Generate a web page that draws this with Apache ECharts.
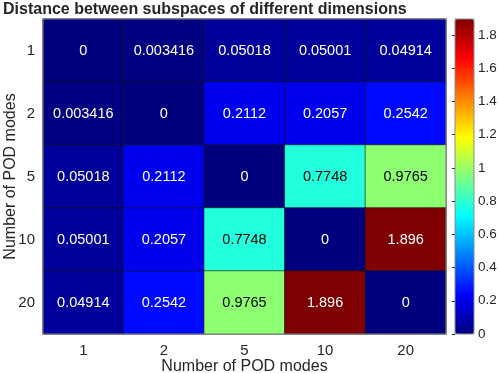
<!DOCTYPE html>
<html>
<head>
<meta charset="utf-8">
<script src="https://cdn.jsdelivr.net/npm/echarts@6/dist/echarts.min.js"></script>
<style>
  html, body { margin: 0; padding: 0; background: #fff; }
  #chart { width: 498px; height: 373px; }
</style>
</head>
<body>
<div id="chart"></div>
<script>
const modes = ['1', '2', '5', '10', '20'];
const row1 = [0, 0.003416, 0.05018, 0.05001, 0.04914];
const row2 = [0.003416, 0, 0.2112, 0.2057, 0.2542];
const row5 = [0.05018, 0.2112, 0, 0.7748, 0.9765];
const row10 = [0.05001, 0.2057, 0.7748, 0, 1.896];
const row20 = [0.04914, 0.2542, 0.9765, 1.896, 0];
const rows = [row1, row2, row5, row10, row20];
const colorMax = 1.896;
const jet = ['#00007F', '#0000FF', '#007FFF', '#00FFFF', '#7FFF7F', '#FFFF00', '#FF7F00', '#FF0000', '#7F0000'];

const cells = [];
rows.forEach((r, yi) => {
  r.forEach((v, xi) => {
    // light cells (cyan / green) get dark text, like the original
    const dark = v > 0.6 && v < 1.5;
    cells.push({
      value: [xi, yi, v],
      label: { color: dark ? '#000' : '#fff' }
    });
  });
});

const fmt = v => parseFloat(v.toPrecision(4)).toString();
const textColor = '#262626';

const chart = echarts.init(document.getElementById('chart'));
chart.setOption({
  animation: false,
  textStyle: { fontFamily: 'Liberation Sans, Arial, sans-serif' },
  title: {
    text: 'Distance between subspaces of different dimensions',
    left: -2, top: -3,
    textStyle: { fontSize: 16, fontWeight: 'bold', color: textColor }
  },
  grid: [
    { left: 43, right: 52, top: 19, bottom: 39, show: true, borderColor: '#8c8c8c', borderWidth: 1, z: 5, outerBoundsMode: 'none' },
    { left: 455, width: 19, top: 19, bottom: 39, show: true, borderColor: '#8c8c8c', borderWidth: 1, backgroundColor: 'transparent', z: 5, outerBoundsMode: 'none' }
  ],
  xAxis: [
    {
      type: 'category', data: modes, gridIndex: 0,
      axisLine: { show: false }, axisTick: { show: false }, splitLine: { show: false },
      axisLabel: { color: textColor, fontSize: 15, margin: 9 },
      name: 'Number of POD modes', nameLocation: 'middle', nameGap: 25, nameMoveOverlap: false,
      nameTextStyle: { color: textColor, fontSize: 16 }
    },
    {
      type: 'value', gridIndex: 1, show: false
    }
  ],
  yAxis: [
    {
      type: 'category', data: modes, gridIndex: 0, inverse: true,
      axisLine: { show: false }, axisTick: { show: false }, splitLine: { show: false },
      axisLabel: { color: textColor, fontSize: 15, margin: 8 },
      name: 'Number of POD modes', nameLocation: 'middle', nameGap: 24, nameMoveOverlap: false,
      nameTextStyle: { color: textColor, fontSize: 16 }
    },
    {
      type: 'value', gridIndex: 1, position: 'right', min: 0, max: colorMax, interval: 0.2,
      axisLine: { show: false }, splitLine: { show: false },
      axisTick: { show: true, inside: true, length: 3, lineStyle: { color: '#262626' } },
      axisLabel: { color: textColor, fontSize: 13.5, margin: 4, showMaxLabel: false }
    }
  ],
  visualMap: {
    type: 'continuous', min: 0, max: colorMax, seriesIndex: 0,
    calculable: false, orient: 'vertical',
    left: 455, top: 19, itemWidth: 19, itemHeight: 315, padding: 0,
    text: null, showLabel: false, z: 1,
    inRange: { color: jet }
  },
  series: [{
    type: 'heatmap', xAxisIndex: 0, yAxisIndex: 0,
    data: cells,
    itemStyle: { borderColor: 'rgba(20,20,20,0.6)', borderWidth: 1 },
    label: {
      show: true, fontSize: 14.5,
      formatter: p => fmt(p.value[2])
    },
    emphasis: { disabled: true }
  }]
});
</script>
</body>
</html>
